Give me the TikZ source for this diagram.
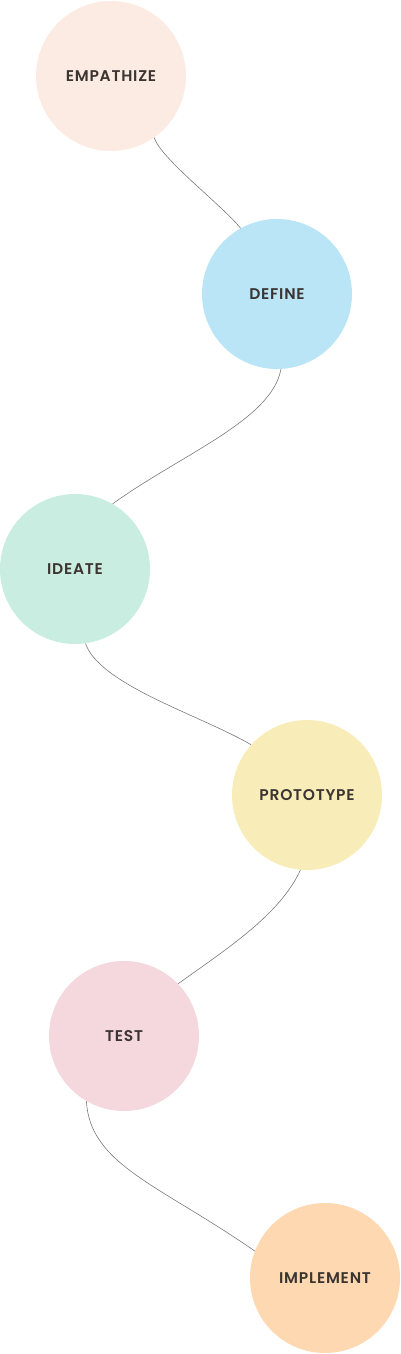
\documentclass[tikz,border=0pt]{standalone}
\usepackage{fontspec}
\setmainfont{Poppins}[UprightFont=* SemiBold, BoldFont=* Bold]
\newfontfamily\labelfont{Poppins SemiBold}[LetterSpace=5]
\definecolor{txt}{HTML}{3B3431}
\definecolor{linec}{HTML}{7A7A7A}
\definecolor{cEmp}{HTML}{FCEBE3}
\definecolor{cDef}{HTML}{B9E5F6}
\definecolor{cIde}{HTML}{C9EEE1}
\definecolor{cPro}{HTML}{F8ECB9}
\definecolor{cTes}{HTML}{F4D8DD}
\definecolor{cImp}{HTML}{FDD8B0}
\begin{document}
\begin{tikzpicture}[x=1pt,y=-1pt,
  stage/.style={circle, minimum size=150pt, inner sep=0pt, draw=none,
    font=\labelfont\fontsize{15.5}{16}\selectfont, text=txt},
  link/.style={draw=linec, line width=0.6pt}]
\useasboundingbox (0,0) rectangle (400,1354);
\node[stage, fill=cEmp] (emp) at (111,76) {EMPATHIZE};
\node[stage, fill=cDef] (def) at (277,294) {DEFINE};
\node[stage, fill=cIde] (ide) at (75,569) {IDEATE};
\node[stage, fill=cPro] (pro) at (307,795) {PROTOTYPE};
\node[stage, fill=cTes] (tes) at (124,1036) {TEST};
\node[stage, fill=cImp] (imp) at (325,1278) {IMPLEMENT};
\draw[link] (emp.-55) .. controls (162,160) and (222,205) .. (def.119);
\draw[link] (def.-87) .. controls (272,420) and (180,455) .. (ide.60);
\draw[link] (ide.-82) .. controls (100,685) and (200,715) .. (pro.138);
\draw[link] (pro.-95) .. controls (280,915) and (225,950) .. (tes.44);
\draw[link] (tes.-120) .. controls (90,1165) and (160,1185) .. (imp.159);
\end{tikzpicture}
\end{document}
